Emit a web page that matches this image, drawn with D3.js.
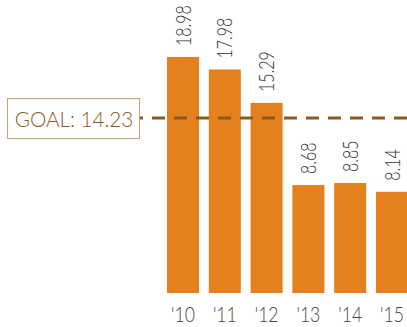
<!DOCTYPE html>
<html>
<head>
<meta charset="utf-8">
<script src="https://cdn.jsdelivr.net/npm/d3@7"></script>
<style>
  html, body { margin: 0; padding: 0; background: #fff; }
  svg { display: block; }
</style>
</head>
<body>
<div id="chart"></div>
<script>
// Data
const years = ["'10", "'11", "'12", "'13", "'14", "'15"];
const values = [18.98, 17.98, 15.29, 8.68, 8.85, 8.14];
const goal = 14.23;
const goalLabel = 'GOAL: 14.23';

const W = 407, H = 327;
const barColor = '#e5801e';
const goalColor = '#8a5a1e';
const font = 'Lato, sans-serif';

const svg = d3.select('#chart').append('svg')
  .attr('width', W)
  .attr('height', H);

const x = d3.scaleBand()
  .domain(years)
  .range([167, 408])
  .paddingInner(0.234)
  .paddingOuter(0);

const y = d3.scaleLinear()
  .domain([0, 18.98])
  .range([293, 57]);

// Bars
svg.selectAll('.bar')
  .data(values)
  .join('rect')
  .attr('class', 'bar')
  .attr('x', (d, i) => x(years[i]))
  .attr('y', d => y(d))
  .attr('width', x.bandwidth())
  .attr('height', d => y(0) - y(d))
  .attr('fill', barColor);

// Value labels, rotated and a bit condensed
svg.selectAll('.val')
  .data(values)
  .join('text')
  .attr('class', 'val')
  .attr('transform', (d, i) =>
    `translate(${x(years[i]) + x.bandwidth() / 2},${y(d) - 11}) rotate(-90) scale(0.76,1)`)
  .attr('dy', '0.36em')
  .attr('font-family', font)
  .attr('font-weight', 300)
  .attr('font-size', '21px')
  .attr('fill', '#333')
  .text(d => d.toFixed(2));

// Year labels
svg.selectAll('.yr')
  .data(years)
  .join('text')
  .attr('class', 'yr')
  .attr('transform', d => `translate(${x(d) + x.bandwidth() / 2},322) scale(0.8,1)`)
  .attr('text-anchor', 'middle')
  .attr('font-family', font)
  .attr('font-weight', 300)
  .attr('font-size', '22px')
  .attr('fill', '#444')
  .text(d => d);

// Goal line (sits slightly below the exact value in the original)
const gy = y(goal) + 2;
svg.append('line')
  .attr('x1', 139).attr('x2', W)
  .attr('y1', gy).attr('y2', gy)
  .attr('stroke', goalColor)
  .attr('stroke-width', 3)
  .attr('stroke-dasharray', '13,9')
  .attr('stroke-dashoffset', 9);

// Goal box
svg.append('rect')
  .attr('x', 7.5).attr('y', gy - 19.5)
  .attr('width', 132).attr('height', 40)
  .attr('fill', '#fff')
  .attr('stroke', '#c9a173')
  .attr('stroke-width', 1);

svg.append('text')
  .attr('transform', `translate(74,${gy + 8.5}) scale(0.94,1)`)
  .attr('text-anchor', 'middle')
  .attr('font-family', font)
  .attr('font-weight', 300)
  .attr('font-size', '22px')
  .attr('fill', '#8a5a1e')
  .text(goalLabel);
</script>
</body>
</html>
